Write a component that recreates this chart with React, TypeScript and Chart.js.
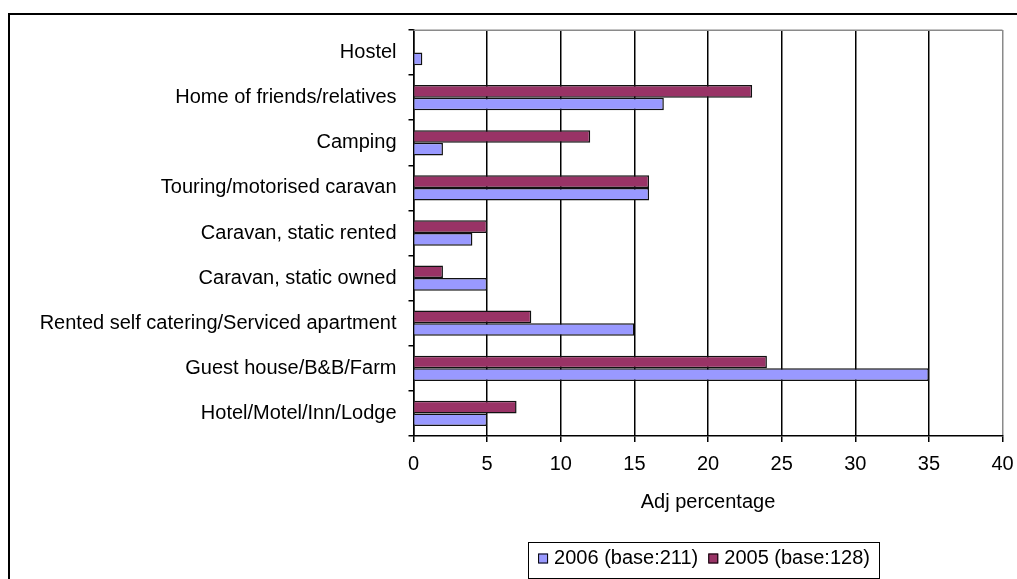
import React, { useEffect, useRef } from 'react';
import { Chart, registerables } from 'chart.js';

Chart.register(...registerables);

const categories: string[] = [
  'Hostel',
  'Home of friends/relatives',
  'Camping',
  'Touring/motorised caravan',
  'Caravan, static rented',
  'Caravan, static owned',
  'Rented self catering/Serviced apartment',
  'Guest house/B&B/Farm',
  'Hotel/Motel/Inn/Lodge',
];
const values2005: (number | null)[] = [null, 23, 12, 16, 5, 2, 8, 24, 7];
const values2006: (number | null)[] = [0.6, 17, 2, 16, 4, 5, 15, 35, 5];
const label2006 = '2006 (base:211)';
const label2005 = '2005 (base:128)';
const xMin = 0;
const xMax = 40;
const xStep = 5;
const axisTitle = 'Adj percentage';

const FONT = "'Liberation Sans', Arial, sans-serif";

const framePlugin = {
  id: 'frameAndLegend',
  afterDraw(chart: any) {
    const ctx = chart.ctx;
    const ca = chart.chartArea;
    ctx.save();
    // outer frame (top + left visible)
    ctx.fillStyle = '#000';
    ctx.fillRect(8, 13, 1017, 2);
    ctx.fillRect(8, 13, 2, 579);
    // plot area top border (gray)
    ctx.strokeStyle = '#8a8a8a';
    ctx.lineWidth = 1.5;
    ctx.beginPath();
    ctx.moveTo(ca.left, 30.25);
    ctx.lineTo(ca.right, 30.25);
    ctx.stroke();

    // legend box
    const boxL = 528.5, boxT = 542.5, boxW = 351, boxH = 36;
    ctx.strokeStyle = '#000';
    ctx.lineWidth = 1;
    ctx.strokeRect(boxL, boxT, boxW, boxH);
    ctx.font = `20px ${FONT}`;
    ctx.textBaseline = 'middle';
    ctx.textAlign = 'left';
    const ds = chart.data.datasets.slice().reverse();
    const sq = 10, gap = 6, itemGap = 10;
    const widths = ds.map((d: any) => sq + gap + ctx.measureText(d.label).width);
    const total = widths.reduce((a: number, b: number) => a + b, 0) + itemGap * (ds.length - 1);
    let x = boxL + boxW / 2 - total / 2;
    const cy = 558.5;
    ds.forEach((d: any, i: number) => {
      ctx.fillStyle = d.backgroundColor;
      ctx.fillRect(x, cy - 5, sq, sq);
      ctx.strokeStyle = '#000';
      ctx.strokeRect(x + 0.5, cy - 4.5, sq - 1, sq - 1);
      ctx.fillStyle = '#000';
      ctx.fillText(d.label, x + sq + gap, cy);
      x += widths[i] + itemGap;
    });
    ctx.restore();
  },
};

export default function App() {
  const ref = useRef<HTMLCanvasElement | null>(null);
  useEffect(() => {
    if (!ref.current) return;
    const chart = new Chart(ref.current, {
      type: 'bar',
      data: {
        labels: categories,
        datasets: [
          {
            label: label2005,
            data: values2005,
            backgroundColor: '#993366',
            borderColor: '#111',
            borderWidth: 1.5,
            categoryPercentage: 0.56,
            barPercentage: 1.0,
          },
          {
            label: label2006,
            data: values2006,
            backgroundColor: '#9999FF',
            borderColor: '#111',
            borderWidth: 1.5,
            categoryPercentage: 0.56,
            barPercentage: 1.0,
          },
        ],
      },
      options: {
        indexAxis: 'y',
        animation: false,
        responsive: false,
        devicePixelRatio: 1,
        layout: { padding: { top: 30, left: 0, right: 14.5, bottom: 49 } },
        plugins: {
          legend: { display: false },
          tooltip: { enabled: false },
        },
        scales: {
          x: {
            type: 'linear',
            min: xMin,
            max: xMax,
            ticks: {
              stepSize: xStep,
              color: '#000',
              font: { family: FONT, size: 20 },
              padding: 10,
            },
            grid: {
              color: (c: any) => (c.tick && c.tick.value === xMax ? '#8a8a8a' : '#000'),
              tickColor: '#000',
              lineWidth: 1.5,
              tickLength: 6,
              drawOnChartArea: true,
            },
            border: { color: '#000', width: 1.5 },
            title: {
              display: true,
              text: axisTitle,
              color: '#000',
              font: { family: FONT, size: 20 },
              padding: { top: 0, bottom: 16 },
            },
            afterFit: (s: any) => {
              s.height = 94;
              s.paddingLeft = 0;
              s.paddingRight = 0;
            },
          },
          y: {
            type: 'category',
            ticks: {
              color: '#000',
              font: { family: FONT, size: 20 },
              padding: 12,
              autoSkip: false,
            },
            grid: {
              offset: true,
              drawOnChartArea: false,
              color: '#000',
              tickColor: '#000',
              lineWidth: 1.5,
              tickLength: 5,
            },
            border: { color: '#000', width: 1.5 },
            afterFit: (s: any) => {
              s.width = 413.5;
              s.paddingTop = 0;
              s.paddingBottom = 0;
            },
          },
        },
      },
      plugins: [framePlugin],
    } as any);
    return () => chart.destroy();
  }, []);
  return (
    <div style={{ position: 'absolute', left: 0, top: 0, width: 1017, height: 579, background: '#fff' }}>
      <canvas ref={ref} width={1017} height={579} style={{ display: 'block' }} />
    </div>
  );
}
